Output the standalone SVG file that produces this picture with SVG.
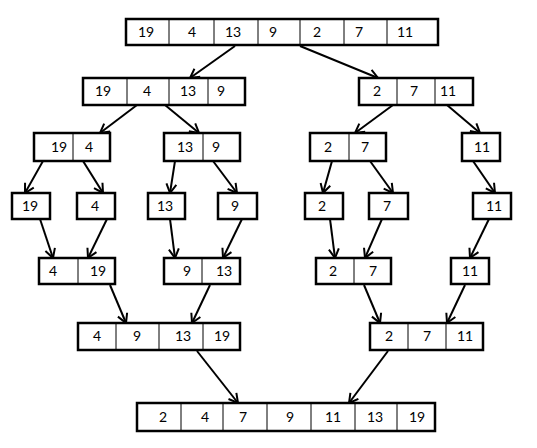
<svg xmlns="http://www.w3.org/2000/svg" width="537" height="448" viewBox="0 0 537 448">
<style>
.box{fill:#fff;stroke:#000;stroke-width:2.5}
.div{stroke:#000;stroke-width:1}
text{font-family:Lato,"Liberation Sans",sans-serif;font-size:14px;text-anchor:middle;fill:#000}
.c line{stroke:#000;stroke-width:2;marker-end:url(#ah)}
</style>
<defs>
<marker id="ah" markerUnits="userSpaceOnUse" markerWidth="14" markerHeight="14" viewBox="-11 -7 14 14" refX="0" refY="0" orient="auto">
<path d="M-9,-5 L0,0 L-9,5" fill="none" stroke="#000" stroke-width="2"/>
</marker>
</defs>
<rect width="537" height="448" fill="#fff"/>
<g class="c" id="connectors">
<line x1="235" y1="46" x2="190" y2="78"/>
<line x1="300" y1="46" x2="378" y2="78"/>
<line x1="137" y1="105" x2="100" y2="133"/>
<line x1="165" y1="105" x2="199" y2="133"/>
<line x1="393" y1="105" x2="355" y2="133"/>
<line x1="447" y1="105" x2="480" y2="133"/>
<line x1="43" y1="161" x2="25" y2="193"/>
<line x1="83" y1="161" x2="103" y2="193"/>
<line x1="175" y1="161" x2="170" y2="193"/>
<line x1="213" y1="161" x2="237" y2="193"/>
<line x1="332" y1="161" x2="323" y2="193"/>
<line x1="370" y1="161" x2="393" y2="193"/>
<line x1="473" y1="161" x2="495" y2="193"/>
<line x1="40" y1="219" x2="53" y2="258"/>
<line x1="107" y1="219" x2="88" y2="258"/>
<line x1="170" y1="219" x2="175" y2="258"/>
<line x1="242" y1="219" x2="223" y2="258"/>
<line x1="330" y1="219" x2="335" y2="258"/>
<line x1="382" y1="219" x2="365" y2="258"/>
<line x1="489" y1="219" x2="470" y2="258"/>
<line x1="110" y1="285" x2="126" y2="323"/>
<line x1="210" y1="285" x2="192" y2="323"/>
<line x1="364" y1="285" x2="380" y2="323"/>
<line x1="465" y1="285" x2="447" y2="323"/>
<line x1="197" y1="351" x2="238" y2="403"/>
<line x1="388" y1="351" x2="349" y2="403"/>
</g>
<g id="n_top">
<rect class="box" x="126" y="19" width="312" height="26"/>
<path class="div" d="M169,19V45M214,19V45M258,19V45M300,19V45M344,19V45M387,19V45"/>
<text x="146" y="37">19</text><text x="192" y="37">4</text><text x="233" y="37">13</text><text x="273" y="37">9</text><text x="317" y="37">2</text><text x="359" y="37">7</text><text x="405" y="37">11</text>
</g>
<g id="n_l2">
<rect class="box" x="83" y="78" width="162" height="27"/>
<path class="div" d="M127,78V105M169,78V105M208,78V105"/>
<text x="103" y="96">19</text><text x="147" y="96">4</text><text x="188" y="96">13</text><text x="221" y="96">9</text>
</g>
<g id="n_r2">
<rect class="box" x="359" y="78" width="114" height="27"/>
<path class="div" d="M397,78V105M435,78V105"/>
<text x="377" y="96">2</text><text x="414" y="96">7</text><text x="448" y="96">11</text>
</g>
<g id="n_194">
<rect class="box" x="34" y="133" width="76" height="28"/>
<path class="div" d="M73,133V161"/>
<text x="59" y="152">19</text><text x="89" y="152">4</text>
</g>
<g id="n_139">
<rect class="box" x="164" y="133" width="76" height="28"/>
<path class="div" d="M203,133V161"/>
<text x="185" y="152">13</text><text x="216" y="152">9</text>
</g>
<g id="n_27">
<rect class="box" x="310" y="133" width="76" height="28"/>
<path class="div" d="M349,133V161"/>
<text x="328" y="152">2</text><text x="365" y="152">7</text>
</g>
<g id="n_11a">
<rect class="box" x="462" y="133" width="38" height="28"/>
<text x="482" y="152">11</text>
</g>
<g id="n_19">
<rect class="box" x="12" y="193" width="38" height="26"/>
<text x="30" y="211">19</text>
</g>
<g id="n_4">
<rect class="box" x="77" y="193" width="38" height="26"/>
<text x="95" y="211">4</text>
</g>
<g id="n_13">
<rect class="box" x="148" y="193" width="37" height="26"/>
<text x="165" y="211">13</text>
</g>
<g id="n_9">
<rect class="box" x="218" y="193" width="39" height="26"/>
<text x="235" y="211">9</text>
</g>
<g id="n_2">
<rect class="box" x="305" y="193" width="38" height="26"/>
<text x="322" y="211">2</text>
</g>
<g id="n_7">
<rect class="box" x="369" y="193" width="39" height="26"/>
<text x="387" y="211">7</text>
</g>
<g id="n_11b">
<rect class="box" x="473" y="193" width="38" height="26"/>
<text x="494" y="211">11</text>
</g>
<g id="n_419">
<rect class="box" x="39" y="258" width="76" height="26"/>
<path class="div" d="M78,258V284"/>
<text x="53" y="276">4</text><text x="98" y="276">19</text>
</g>
<g id="n_913">
<rect class="box" x="164" y="258" width="76" height="26"/>
<path class="div" d="M202,258V284"/>
<text x="187" y="276">9</text><text x="224" y="276">13</text>
</g>
<g id="n_27b">
<rect class="box" x="316" y="258" width="75" height="26"/>
<path class="div" d="M354,258V284"/>
<text x="333" y="276">2</text><text x="373" y="276">7</text>
</g>
<g id="n_11c">
<rect class="box" x="451" y="258" width="38" height="26"/>
<text x="470" y="276">11</text>
</g>
<g id="n_l6">
<rect class="box" x="78" y="323" width="162" height="27"/>
<path class="div" d="M116,323V350M159,323V350M203,323V350"/>
<text x="97" y="341">4</text><text x="137" y="341">9</text><text x="183" y="341">13</text><text x="222" y="341">19</text>
</g>
<g id="n_r6">
<rect class="box" x="370" y="323" width="113" height="27"/>
<path class="div" d="M408,323V350M446,323V350"/>
<text x="389" y="341">2</text><text x="427" y="341">7</text><text x="465" y="341">11</text>
</g>
<g id="n_final">
<rect class="box" x="137" y="403" width="298" height="28"/>
<path class="div" d="M181,403V431M223,403V431M267,403V431M311,403V431M355,403V431M397,403V431"/>
<text x="163" y="422">2</text><text x="205" y="422">4</text><text x="243" y="422">7</text><text x="290" y="422">9</text><text x="333" y="422">11</text><text x="375" y="422">13</text><text x="417" y="422">19</text>
</g>
</svg>
